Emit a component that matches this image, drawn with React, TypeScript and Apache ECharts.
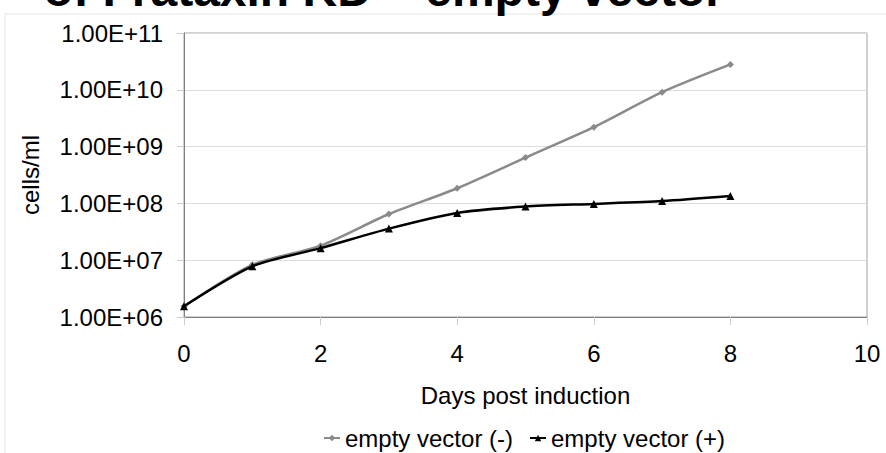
import React, { useEffect, useRef } from "react";
import * as echarts from "echarts";

const days = [0, 1, 2, 3, 4, 5, 6, 7, 8];
const emptyVectorMinus = [1.55e6, 8.3e6, 1.8e7, 6.5e7, 1.85e8, 6.4e8, 2.2e9, 9.1e9, 2.8e10];
const emptyVectorPlus = [1.55e6, 7.8e6, 1.63e7, 3.6e7, 6.8e7, 8.8e7, 9.8e7, 1.1e8, 1.35e8];
const seriesNames = ["empty vector (-)", "empty vector (+)"];
const titleText = "of Frataxin KD \u2013 empty vector";
const xAxisName = "Days post induction";
const yAxisName = "cells/ml";

const FONT = "'Liberation Sans', Arial, sans-serif";

export default function App() {
  const ref = useRef<HTMLDivElement>(null);
  useEffect(() => {
    if (!ref.current) return;
    const chart = echarts.init(ref.current, null, { renderer: "svg" });
    const pair = (ys: number[]) => days.map((d, i) => [d, ys[i]]);
    chart.setOption({
      animation: false,
      backgroundColor: "#ffffff",
      textStyle: { fontFamily: FONT, color: "#000" },
      graphic: [
        {
          type: "rect",
          shape: { x: 5, y: 14, width: 950, height: 600 },
          style: { fill: "none", stroke: "#e6e6e6", lineWidth: 1 },
          z: 0,
        },
        {
          type: "text",
          x: 724,
          y: -11,
          style: {
            text: titleText,
            font: "bold 48px 'Liberation Sans', Arial, sans-serif",
            fill: "#000",
            align: "right",
            verticalAlign: "middle",
          },
        },
      ],
      grid: {
        left: 184,
        right: 19,
        top: 33,
        bottom: 136,
        show: true,
        borderColor: "#a0a0a0",
        borderWidth: 1,
      },
      legend: {
        top: 421,
        left: 318,
        itemWidth: 16,
        itemHeight: 8,
        itemGap: 16,
        textStyle: { fontSize: 24, fontFamily: FONT, color: "#000", padding: [0, 0, 0, 0] },
        data: seriesNames,
      },
      xAxis: {
        type: "value",
        min: 0,
        max: 10,
        interval: 2,
        name: xAxisName,
        nameLocation: "middle",
        nameGap: 66,
        nameTextStyle: { fontSize: 24, fontFamily: FONT, color: "#000" },
        axisLine: { show: true, lineStyle: { color: "#808080", width: 1 } },
        axisTick: { show: true, length: 8, lineStyle: { color: "#cccccc" } },
        axisLabel: { fontSize: 24, fontFamily: FONT, color: "#000", margin: 24 },
        splitLine: { show: false },
      },
      yAxis: {
        type: "log",
        logBase: 10,
        min: 1e6,
        max: 1e11,
        name: yAxisName,
        nameLocation: "middle",
        nameGap: 142,
        nameRotate: 90,
        nameTextStyle: { fontSize: 24, fontFamily: FONT, color: "#000" },
        axisLine: { show: true, lineStyle: { color: "#808080", width: 1 } },
        axisTick: { show: true, length: 7, lineStyle: { color: "#cccccc" } },
        axisLabel: {
          fontSize: 24,
          fontFamily: FONT,
          color: "#000",
          margin: 21,
          formatter: (v: number) => {
            const e = Math.round(Math.log10(v));
            return "1.00E+" + (e < 10 ? "0" + e : String(e));
          },
        },
        splitLine: { show: true, lineStyle: { color: "#dddddd", width: 1 } },
      },
      series: [
        {
          name: seriesNames[0],
          type: "line",
          data: pair(emptyVectorMinus),
          smooth: 0.25,
          symbol: "diamond",
          symbolSize: 7,
          itemStyle: { color: "#8a8a8a" },
          lineStyle: { color: "#8a8a8a", width: 2.5 },
          z: 2,
        },
        {
          name: seriesNames[1],
          type: "line",
          data: pair(emptyVectorPlus),
          smooth: 0.25,
          symbol: "triangle",
          symbolSize: 8,
          itemStyle: { color: "#000000" },
          lineStyle: { color: "#000000", width: 2.5 },
          z: 3,
        },
      ],
    });
    return () => chart.dispose();
  }, []);
  return (
    <div
      ref={ref}
      style={{ position: "fixed", left: 0, top: 0, width: 886, height: 453, background: "#fff" }}
    />
  );
}
